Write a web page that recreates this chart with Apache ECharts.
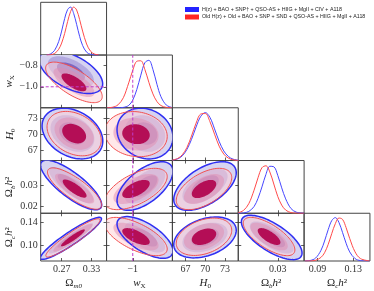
<!DOCTYPE html>
<html><head><meta charset="utf-8">
<script src="https://cdn.jsdelivr.net/npm/echarts@6/dist/echarts.min.js"></script>
<style>html,body{margin:0;padding:0;background:#fff}#c{width:374px;height:291px}</style>
</head><body><div id="c"></div>
<script>
// ---------- axis data ----------
const xRanges = [[0.228,0.360],[-1.195,-0.705],[65,75],[0.015,0.040],[0.0752,0.1486]];
const yRanges = [null,[-1.195,-0.705],[65,75],[0.0168,0.0418],[0.0717,0.156]];
const xTicks = [[0.27,0.33],[-1],[67,70,73],[0.03],[0.09,0.13]];
const yTicks = [null,[-0.8,-1.0],[67,70,73],[0.02,0.03],[0.10,0.14]];
const xDec = [2,0,0,2,2];
const yDec = [0,1,0,2,2];
const wRef = -1;

// ---------- 1D marginals ----------
const gridOm = [0.240,0.248,0.256,0.264,0.270,0.276,0.282,0.288,0.294,0.300,0.306,0.312,0.320,0.328,0.336,0.344];
const blueOm = [0.005,0.025,0.10,0.28,0.50,0.76,0.95,1.00,0.87,0.64,0.39,0.20,0.06,0.014,0.002,0.0];
const redOm  = [0.001,0.007,0.033,0.12,0.25,0.45,0.70,0.91,1.00,0.94,0.74,0.50,0.23,0.078,0.02,0.004];
const gridW = [-1.19,-1.15,-1.11,-1.07,-1.03,-1.00,-0.97,-0.94,-0.91,-0.88,-0.85,-0.82,-0.79,-0.75,-0.71];
const blueW = [0,0,0.001,0.008,0.05,0.16,0.38,0.68,0.94,0.99,0.80,0.49,0.23,0.056,0.008];
const redW  = [0.002,0.012,0.061,0.21,0.52,0.78,0.97,0.98,0.80,0.53,0.29,0.13,0.046,0.008,0.001];
const gridH = [65,65.8,66.5,67.2,67.9,68.6,69.3,70,70.7,71.4,72.1,72.8,73.5,74.2,75];
const blueH = [0.008,0.035,0.097,0.23,0.44,0.70,0.92,1.00,0.90,0.66,0.40,0.20,0.085,0.029,0.007];
const redH  = [0.010,0.042,0.12,0.27,0.51,0.78,0.97,0.98,0.81,0.55,0.30,0.135,0.05,0.015,0.003];
const gridOb = [0.015,0.017,0.019,0.021,0.0225,0.024,0.0255,0.027,0.0285,0.030,0.0315,0.033,0.035,0.037,0.040];
const blueOb = [0.001,0.007,0.038,0.14,0.31,0.55,0.81,0.98,0.97,0.79,0.53,0.30,0.10,0.024,0.001];
const redOb  = [0.012,0.059,0.20,0.48,0.74,0.95,0.99,0.86,0.61,0.35,0.17,0.067,0.014,0.002,0];
const gridOc = [0.076,0.082,0.088,0.094,0.098,0.102,0.106,0.110,0.114,0.118,0.122,0.126,0.132,0.138,0.148];
const blueOc = [0.0015,0.012,0.067,0.245,0.46,0.72,0.93,1.00,0.89,0.66,0.41,0.21,0.055,0.01,0];
const redOc  = [0,0.002,0.017,0.083,0.19,0.38,0.63,0.86,0.99,0.96,0.77,0.52,0.21,0.056,0.003];

// ---------- 2D contours: [row, col, centreX, centreY, sigmaX, sigmaY, rho] ----------
const blueContours = [
  [1,0, 0.2886,-0.862, 0.0185,0.0584,-0.55],
  [2,0, 0.2916, 70.12, 0.0177,1.40, -0.3],
  [3,0, 0.289, 0.0302, 0.0178,0.00342,-0.8],
  [4,0, 0.2886,0.1117, 0.0178,0.0108, 0.93],
  [2,1, -0.909,70.12,  0.0605,1.40, -0.15],
  [3,1, -0.909,0.0297, 0.0605,0.00335, 0.6],
  [4,1, -0.909,0.1133, 0.0605,0.0107, -0.65],
  [3,2, 69.95, 0.0297, 1.38,  0.00335, 0.55],
  [4,2, 69.95, 0.1133, 1.38,  0.0105, 0.35],
  [4,3, 0.0277,0.1133, 0.00335,0.0114, -0.7]
];
const redContours = [
  [1,0, 0.2946,-0.959, 0.0165,0.0548,-0.7],
  [2,0, 0.295, 70.1,   0.0158,1.225, -0.3],
  [3,0, 0.296, 0.0285, 0.0158,0.00285,-0.8],
  [4,0, 0.2926,0.1125, 0.0158,0.00983, 0.93],
  [2,1, -0.976,70.0,   0.0676,1.246, -0.1],
  [3,1, -0.976,0.0283, 0.0676,0.00285, 0.6],
  [4,1, -0.976,0.1149, 0.0676,0.00983,-0.65],
  [3,2, 69.8,  0.0283, 1.225, 0.00285, 0.55],
  [4,2, 69.8,  0.1145, 1.225, 0.0096, 0.35],
  [4,3, 0.0267,0.1149, 0.00285,0.00983,-0.7]
];

const BLUE_NAME = 'H(z) + BAO + SNP† + QSO-AS + HIIG + MgII + CIV + A118';
const RED_NAME = 'Old H(z) + Old + BAO + SNP + SND + QSO-AS + HIIG + MgII + A118';

// ---------- styles ----------
const SERIF = 'Liberation Serif';
const LEVELS = [3.439, 2.486, 1.515];             // 3σ, 2σ, 1σ radii
const BLUE_FILL = ['#d6d3f1', '#b3a9e0', '#7e66c0'];
const RED_FILL = ['rgba(255,208,212,0.5)', 'rgba(225,140,175,0.5)', 'rgba(176,0,74,0.9)'];
const BLUE_LINE = '#2f2ff2', RED_LINE = '#f25050';

const rich = {
  n:{fontFamily:SERIF,fontSize:11,color:'#222',lineHeight:14,verticalAlign:'middle'},
  i:{fontFamily:SERIF,fontSize:11,fontStyle:'italic',color:'#222',lineHeight:14,verticalAlign:'middle'},
  s:{fontFamily:SERIF,fontSize:7,color:'#222',lineHeight:14,verticalAlign:'bottom'},
  si:{fontFamily:SERIF,fontSize:7,fontStyle:'italic',color:'#222',lineHeight:14,verticalAlign:'bottom'}
};
const names = ['{n|Ω}{si|m0}','{i|w}{s|X}','{i|H}{s|0}','{n|Ω}{si|b}{i|h}{n|²}','{n|Ω}{si|c}{i|h}{n|²}'];

const fmt = d => v => (v < 0 ? '−' : '') + Math.abs(v).toFixed(d);

const W = 65.85, H = 52.74, L0 = 40.7, T0 = 2.3;
const grids = [], xAxes = [], yAxes = [], series = [];
const gIdx = {};

function tickCfg(vals, show){
  return {show:show, inside:true, length:3, customValues:vals, lineStyle:{color:'#333', width:0.8}};
}
for (let r = 0; r < 5; r++) for (let c = 0; c <= r; c++) {
  const gi = grids.length; gIdx[r+','+c] = gi;
  const diag = r === c;
  grids.push({left:L0+c*W, top:T0+r*H, width:W, height:H, show:true, borderColor:'#444', borderWidth:1, backgroundColor:'transparent'});
  const lab = r === 4;
  xAxes.push({gridIndex:gi, type:'value', position:'bottom', min:xRanges[c][0], max:xRanges[c][1],
    axisLine:{show:false}, splitLine:{show:false}, axisTick:tickCfg(xTicks[c], true),
    axisLabel:{show:lab, customValues:xTicks[c], formatter:fmt(xDec[c]), color:'#333', fontFamily:SERIF, fontSize:10, margin:3},
    name: lab ? names[c] : '', nameLocation:'middle', nameGap:15, nameTextStyle:{rich:rich}});
  xAxes.push({gridIndex:gi, type:'value', position:'top', min:xRanges[c][0], max:xRanges[c][1],
    axisLine:{show:false}, splitLine:{show:false}, axisTick:tickCfg(xTicks[c], !diag), axisLabel:{show:false}});
  if (diag) {
    yAxes.push({gridIndex:gi, type:'value', min:0, max:1.1, show:false});
    yAxes.push({gridIndex:gi, type:'value', min:0, max:1.1, show:false, position:'right'});
  } else {
    const labY = c === 0;
    yAxes.push({gridIndex:gi, type:'value', position:'left', min:yRanges[r][0], max:yRanges[r][1],
      axisLine:{show:false}, splitLine:{show:false}, axisTick:tickCfg(yTicks[r], true),
      axisLabel:{show:labY, customValues:yTicks[r], formatter:fmt(yDec[r]), color:'#333', fontFamily:SERIF, fontSize:10, margin:3},
      name: labY ? names[r] : '', nameLocation:'middle', nameGap:24, nameRotate:90, nameTextStyle:{rich:rich}});
    yAxes.push({gridIndex:gi, type:'value', position:'right', min:yRanges[r][0], max:yRanges[r][1],
      axisLine:{show:false}, splitLine:{show:false}, axisTick:tickCfg(yTicks[r], true), axisLabel:{show:false}});
  }
}

function ellipse(api, p, rr){
  const [cx, cy, sx, sy, rho] = p;
  const k = Math.sqrt(1 - rho*rho);
  const pts = [];
  for (let i = 0; i < 90; i++) {
    const t = i / 90 * 2 * Math.PI, co = Math.cos(t), si = Math.sin(t);
    pts.push(api.coord([cx + rr*sx*co, cy + rr*sy*(rho*co + k*si)]));
  }
  return pts;
}
function render(kind){
  return function(params, api){
    const p = [0,1,2,3,4].map(i => api.value(i));
    const cs = params.coordSys;
    const clip = {type:'rect', shape:{x:cs.x, y:cs.y, width:cs.width, height:cs.height}};
    let ch;
    if (kind === 'blue' || kind === 'red') {
      const fills = kind === 'blue' ? BLUE_FILL : RED_FILL;
      ch = LEVELS.map((rr, j) => ({type:'polygon', shape:{points:ellipse(api,p,rr)}, style:{fill:fills[j]}}));
    } else {
      ch = [{type:'polygon', shape:{points:ellipse(api,p,LEVELS[0])},
        style:{fill:'none', stroke:kind === 'blueLine' ? BLUE_LINE : RED_LINE, lineWidth:kind === 'blueLine' ? 1.5 : 1}}];
    }
    return {type:'group', clipPath:clip, children:ch};
  };
}
function addContours(list, kind, name, z){
  list.forEach(row => {
    const gi = gIdx[row[0]+','+row[1]];
    series.push({type:'custom', name:name, xAxisIndex:2*gi, yAxisIndex:2*gi, silent:true, z:z,
      dimensions:['x','y','sx','sy','rho'], encode:{x:0, y:1},
      data:[row.slice(2)], renderItem:render(kind)});
  });
}
addContours(blueContours, 'blue', BLUE_NAME, 2);
addContours(redContours, 'red', RED_NAME, 3);
addContours(blueContours, 'blueLine', BLUE_NAME, 4);
addContours(redContours, 'redLine', RED_NAME, 4);

const oneD = [[gridOm, blueOm, redOm],[gridW, blueW, redW],[gridH, blueH, redH],[gridOb, blueOb, redOb],[gridOc, blueOc, redOc]];
oneD.forEach((d, k) => {
  const gi = gIdx[k+','+k];
  [[d[1], '#4646ff', BLUE_NAME],[d[2], '#ff4a4a', RED_NAME]].forEach(([ys, col, nm]) => {
    series.push({type:'line', name:nm, xAxisIndex:2*gi, yAxisIndex:2*gi, data:d[0].map((x,i)=>[x, ys[i]]),
      smooth:0.35, symbol:'none', lineStyle:{color:col, width:1}, itemStyle:{color:col}, z:5, silent:true});
  });
});

// reference dashed line at wX = -1
const dash = {color:'#c03ccc', width:1, type:[3,2]};
{
  const gi = gIdx['1,0'];
  series.push({type:'line', xAxisIndex:2*gi, yAxisIndex:2*gi, data:[[xRanges[0][0], wRef],[xRanges[0][1], wRef]], symbol:'none', lineStyle:dash, z:6, silent:true});
}
for (let r = 1; r < 5; r++) {
  const gi = gIdx[r+',1'];
  const yr = r === 1 ? [0, 1.1] : yRanges[r];
  series.push({type:'line', xAxisIndex:2*gi, yAxisIndex:2*gi, data:[[wRef, yr[0]],[wRef, yr[1]]], symbol:'none', lineStyle:dash, z:6, silent:true});
}

const chart = echarts.init(document.getElementById('c'), null, {renderer:'canvas'});
chart.setOption({
  animation:false,
  backgroundColor:'#fff',
  grid:grids, xAxis:xAxes, yAxis:yAxes, series:series,
  legend:{orient:'vertical', left:180, top:2, itemWidth:14, itemHeight:5, itemGap:2.5, selectedMode:false,
    icon:'rect', textStyle:{fontSize:5.3, fontFamily:'Liberation Sans', color:'#222', padding:[0,0,0,-2]},
    data:[{name:BLUE_NAME, itemStyle:{color:'#2424ff'}},{name:RED_NAME, itemStyle:{color:'#ff2424'}}]}
});
</script></body></html>
